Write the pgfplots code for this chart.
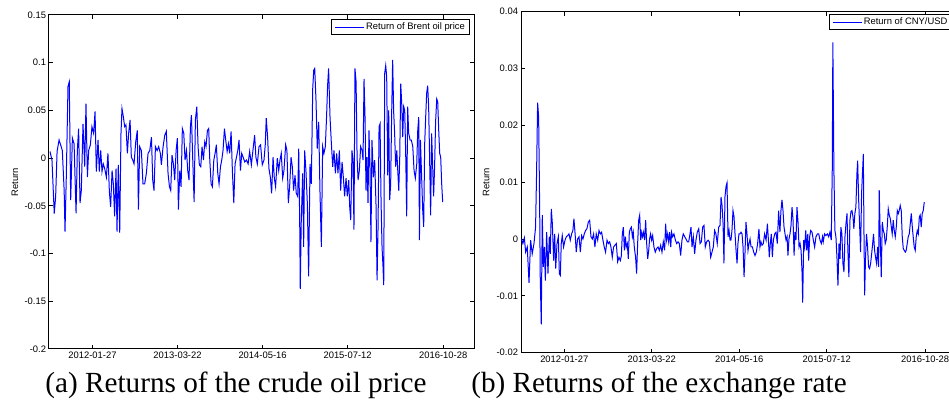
\documentclass[border=0pt]{standalone}
\usepackage{pgfplots}
\pgfplotsset{compat=1.18}
\usepackage{fontspec}
\setmainfont{Liberation Serif}
\newfontfamily\arial{Liberation Sans}
\newcommand{\tfont}{\arial\fontsize{4.7}{5.2}\selectfont}

\pgfplotstableread{
x y
0 0.007
1.4 -0.002
3 -0.058
4 -0.040
5 0.007
6.4 0.019
7.5 0.014
8.7 0.008
10 -0.034
10.6 -0.077
11.5 -0.020
12.7 0.075
13.6 0.080
14.6 -0.044
15.8 0.021
17 0.015
18.4 -0.058
19.3 0.008
20.2 0.031
21.2 -0.047
22.1 -0.034
23.3 0.036
24.5 -0.009
25.4 0.057
26.4 -0.020
27.3 0.008
28.5 0.014
29.6 0.033
30.8 0.026
31.8 0.049
32.7 -0.014
33.9 0.019
34.8 -0.014
35.8 0.008
36.7 -0.014
37.6 -0.006
38.6 -0.011
39.8 -0.020
40.9 0.005
41.9 -0.035
42.8 -0.051
43.8 -0.013
44.7 -0.027
45.6 -0.061
46.6 -0.011
47.3 -0.077
48.2 -0.007
49.2 -0.078
50.1 0.026
50.8 0.052
51.8 0.043
52.7 0.033
53.6 0.035
54.6 0.005
55.5 0.026
56.5 0.040
57.4 0.001
58.4 -0.002
59.3 -0.006
60.5 0.017
61.6 0.029
62.4 -0.054
63.3 0.012
64.5 0.008
65.6 -0.027
66.8 -0.027
68 -0.016
69.2 0.005
70.4 0.008
71.6 0.022
72.5 -0.023
73.4 -0.034
74.4 0.012
75.6 0.008
76.7 0.012
77.9 0.005
78.6 -0.007
79.8 0.012
81 0.024
82.1 0.028
83.3 -0.016
84.3 -0.030
85.2 -0.034
86.1 0.003
87.1 -0.006
88 -0.023
89 0.008
89.9 0.021
90.6 -0.054
91.6 -0.013
92.5 -0.030
93.4 0.031
94.4 0.026
95.3 -0.002
96.3 0.008
97.2 -0.013
98.1 -0.023
99.1 0.033
99.8 0.045
100.7 0.000
101.7 -0.046
102.6 0.040
103.6 0.054
104.5 0.012
105.4 -0.007
106.4 -0.009
107.3 0.012
108.3 -0.002
109.2 0.017
110.1 0.012
111.1 0.029
112 0.031
112.7 0.000
113.7 -0.027
114.6 -0.030
115.6 -0.002
116.5 0.005
117.4 0.014
118.4 -0.016
119.3 -0.027
120.3 -0.009
121.2 -0.002
122.1 0.008
123.1 0.031
124 0.019
125 0.007
125.9 0.015
126.8 0.005
127.8 0.028
128.7 -0.013
129.7 -0.047
130.6 -0.006
131.6 0.001
132.5 0.008
133.4 0.019
134.4 -0.013
135.3 0.005
136.3 0.001
137.4 -0.004
138.6 -0.002
139.8 -0.006
140.9 0.007
142.1 -0.007
143.2 0.008
144.4 0.024
145.3 0.001
146.3 -0.006
147.5 0.012
148.6 0.014
149.8 -0.007
151 -0.002
151.9 0.014
152.6 0.042
153.6 0.021
154.5 -0.011
155.5 -0.020
156.4 -0.037
157.4 0.001
158.3 -0.021
159.2 -0.030
160.4 0.000
161.4 -0.013
162.3 -0.002
163.2 0.005
164.2 -0.021
165.1 -0.013
166.3 0.014
167.2 0.008
168.2 -0.047
169.1 -0.030
170.1 0.001
171 -0.009
171.9 -0.034
172.9 -0.018
173.8 -0.037
174.8 -0.040
175.5 0.010
176.2 -0.065
176.6 -0.137
177.3 -0.067
178.3 -0.016
179 -0.093
179.7 0.008
180.6 -0.013
181.6 -0.047
182.5 -0.124
183.5 -0.006
184.4 -0.027
185.4 0.073
186.1 0.092
186.8 0.094
187.7 0.061
188.6 0.010
189.6 0.038
190.5 -0.034
191.5 -0.093
192.4 0.012
193.3 0.005
194.3 0.012
195.2 0.045
195.9 0.076
196.6 0.094
197.6 0.043
198.5 0.017
199.5 -0.009
200.4 0.008
201.4 -0.016
202.3 0.005
203.2 -0.016
204.2 0.008
205.1 -0.034
206.1 -0.004
207 -0.020
207.9 -0.040
208.9 -0.021
209.8 -0.040
210.8 -0.023
211.5 -0.051
212.2 -0.065
213.1 0.008
213.8 -0.002
214.5 -0.075
215.2 0.094
216 0.080
216.7 0.001
217.4 -0.023
218.3 -0.013
219.2 0.012
220.2 0.008
220.9 -0.002
221.6 0.083
222.3 0.043
223 -0.034
223.7 0.001
224.4 -0.047
225.1 0.029
225.8 -0.009
226.5 -0.088
227.2 0.019
228.2 -0.020
229.1 -0.002
230.1 -0.051
230.8 -0.128
231.5 -0.072
232.2 0.033
232.9 0.036
233.6 -0.044
234.3 -0.093
235 -0.114
235.5 -0.133
236.2 0.089
236.9 0.097
237.6 0.085
238.3 -0.018
239 0.050
239.7 -0.044
240.4 -0.027
241.1 0.047
241.8 0.103
242.5 0.049
243.2 0.026
243.9 -0.009
244.7 0.008
245.4 -0.013
246.1 -0.034
246.8 0.001
247.5 0.078
248.2 0.057
248.9 0.022
249.6 0.054
250.3 0.050
251 0.005
251.7 -0.061
252.4 0.054
253.1 0.026
254.1 0.019
255 0.019
256 0.012
256.9 -0.013
257.8 -0.021
258.8 -0.006
259.5 0.029
260.2 0.043
260.7 -0.086
261.4 0.019
262.1 -0.013
263 -0.054
263.7 -0.072
264.4 0.015
265.1 0.043
265.8 0.068
266.5 0.076
267.2 0.054
267.9 -0.002
268.6 -0.060
269.3 0.026
270 -0.007
270.7 -0.040
271.4 -0.009
272.1 0.038
272.9 0.062
273.6 0.059
274.3 0.029
275 0.005
275.7 0.001
276.4 -0.027
277.1 -0.046
}\brent

\pgfplotstableread{
x y
0.7 0.0000
1.6 -0.0008
2.6 0.0002
3.5 -0.0023
4.6 -0.0014
5.8 -0.0077
6.9 -0.0002
8 -0.0026
9.2 -0.0008
10.3 0.0021
11 0.0118
11.7 0.0240
12.4 0.0215
13.1 0.0056
13.5 -0.0067
14.2 -0.0150
14.9 0.0042
15.6 -0.0049
16.3 -0.0014
17 -0.0073
17.9 0.0012
18.8 -0.0061
19.7 0.0004
20.4 -0.0026
21.1 0.0053
21.8 0.0027
22.7 -0.0038
23.4 0.0009
24.1 -0.0052
25 -0.0008
25.9 0.0004
26.6 -0.0061
27.3 -0.0064
27.9 -0.0008
28.6 0.0006
29.5 -0.0014
30.5 -0.0002
31.4 0.0004
32.3 0.0006
33.2 0.0009
34.1 -0.0002
35 0.0009
35.9 0.0015
36.6 0.0036
37.5 0.0006
38.2 -0.0023
39.1 0.0000
40.1 0.0004
41 -0.0023
41.9 0.0006
42.8 0.0000
43.7 0.0009
44.6 0.0015
45.5 0.0018
46.5 0.0030
47.4 0.0033
48.3 0.0004
49.2 0.0000
50.1 0.0009
51 -0.0014
51.9 0.0009
52.9 -0.0002
53.8 0.0015
54.7 0.0009
55.6 0.0012
56.5 -0.0002
57.4 -0.0014
58.3 -0.0023
59.3 -0.0002
60.2 -0.0008
61.1 -0.0005
62 -0.0014
62.9 -0.0032
63.8 -0.0014
64.7 -0.0011
65.7 -0.0008
66.6 -0.0040
67.5 -0.0032
68.4 -0.0038
69.1 -0.0030
69.8 0.0009
70.5 0.0021
71.2 -0.0020
71.9 0.0004
72.5 -0.0014
73.2 -0.0008
73.9 -0.0035
74.6 0.0012
75.3 0.0018
76 0.0021
76.7 0.0004
77.3 0.0012
78 -0.0014
78.9 -0.0032
79.6 -0.0061
80.3 -0.0008
81 0.0033
81.7 0.0042
82.4 -0.0002
83.1 0.0012
83.7 0.0004
84.4 0.0012
85.1 -0.0002
85.8 0.0033
86.5 -0.0008
87.2 -0.0035
87.9 -0.0020
88.5 0.0000
89.2 0.0009
89.9 -0.0002
90.6 0.0006
91.5 -0.0014
92.4 -0.0023
93.3 -0.0017
94.3 -0.0014
95.2 -0.0020
96.1 -0.0011
97 -0.0023
97.9 -0.0005
98.8 -0.0020
99.5 0.0027
100.2 -0.0002
100.9 0.0009
101.6 -0.0005
102.3 0.0012
103 -0.0014
103.6 0.0012
104.3 0.0004
105.2 0.0009
106.2 -0.0002
107.1 -0.0008
108 -0.0005
108.9 -0.0008
109.8 -0.0029
110.7 -0.0002
111.6 0.0009
112.6 0.0004
113.5 0.0000
114.4 -0.0005
115.3 -0.0005
116.2 0.0009
116.9 0.0021
117.6 -0.0014
118.5 0.0004
119.4 -0.0026
120.3 -0.0002
121.2 0.0012
122.2 0.0018
123.1 -0.0008
124 -0.0005
124.9 0.0021
125.8 0.0024
126.7 -0.0014
127.6 -0.0005
128.6 -0.0002
129.5 -0.0005
130.4 -0.0032
131.3 -0.0023
132.2 -0.0014
133.1 0.0015
134 0.0009
134.9 -0.0008
135.9 0.0021
136.8 0.0024
137.5 0.0074
138.2 0.0059
138.9 0.0027
139.5 -0.0043
140.2 0.0074
140.9 0.0092
141.6 0.0099
142.3 0.0004
143 0.0015
143.7 -0.0002
144.3 -0.0002
145 0.0015
145.7 0.0050
146.4 0.0039
147.1 0.0009
147.8 -0.0020
148.5 -0.0043
149.1 -0.0008
149.8 0.0009
150.5 0.0009
151.2 0.0012
151.9 0.0009
152.6 -0.0014
153.3 -0.0067
154 -0.0020
154.6 0.0030
155.3 0.0009
156 -0.0020
156.7 -0.0008
157.4 0.0000
158.1 -0.0014
159 -0.0014
159.9 -0.0023
160.8 -0.0029
161.7 -0.0023
162.6 -0.0008
163.5 0.0018
164.2 -0.0014
164.9 -0.0005
165.6 -0.0011
166.5 -0.0008
167.4 0.0009
168.4 -0.0002
169.3 0.0027
170 -0.0002
170.6 -0.0032
171.3 -0.0008
172 0.0009
172.7 -0.0032
173.4 -0.0002
174.3 0.0009
175.2 0.0012
176.1 -0.0008
177 0.0050
177.9 0.0012
178.6 0.0050
179.3 0.0069
180 0.0050
180.7 0.0021
181.4 0.0009
182.1 -0.0002
182.8 0.0004
183.4 -0.0029
184.1 0.0000
184.8 0.0009
185.5 0.0024
186.2 0.0056
186.9 0.0033
187.6 -0.0029
188.2 0.0012
188.9 -0.0002
189.6 0.0056
190.3 0.0030
191 -0.0014
191.7 -0.0008
192.4 -0.0020
193.1 -0.0061
193.5 -0.0112
194.2 -0.0002
194.9 -0.0014
195.6 0.0015
196.3 -0.0020
197 0.0009
197.6 -0.0038
198.3 0.0004
199 0.0015
199.9 0.0012
200.8 -0.0002
201.7 -0.0014
202.6 0.0004
203.6 0.0009
204.5 0.0009
205.4 -0.0002
206.3 -0.0008
207.1 0.0004
207.6 -0.0005
208.5 0.0009
209.4 0.0006
210.4 0.0009
211.3 0.0004
212.2 0.0012
213.1 -0.0002
213.8 0.0124
214.2 0.0346
214.9 0.0124
215.6 0.0015
216.3 0.0004
217 -0.0032
217.7 -0.0082
218.4 -0.0008
219.1 -0.0035
219.7 0.0021
220.4 0.0009
221.1 -0.0043
221.8 -0.0058
222.5 0.0004
223.2 0.0027
223.9 0.0045
224.5 -0.0020
225.2 -0.0067
225.9 0.0033
226.6 0.0048
227.3 0.0050
228 0.0039
228.6 0.0018
229.3 0.0045
230 0.0056
230.7 0.0115
231.2 0.0138
231.9 0.0068
232.6 0.0021
233.2 -0.0023
233.9 0.0080
234.6 0.0121
235.1 0.0150
235.5 0.0021
236 -0.0099
236.6 -0.0032
237.3 0.0009
238 -0.0014
238.7 -0.0049
239.4 -0.0052
240.1 -0.0043
240.8 -0.0026
241.5 -0.0008
242.1 0.0009
242.8 -0.0020
243.5 -0.0032
244.2 -0.0043
244.9 -0.0014
245.6 -0.0049
246 0.0086
246.7 0.0004
247.4 -0.0067
248.1 0.0030
248.8 0.0015
249.5 0.0009
250.1 -0.0008
250.8 -0.0002
251.5 0.0021
252.2 0.0053
252.9 0.0042
253.6 0.0036
254.3 0.0021
254.9 0.0009
255.6 0.0033
256.3 0.0015
257 0.0004
257.7 0.0021
258.4 0.0050
259.1 0.0045
259.7 0.0050
260.4 0.0059
261.1 0.0050
261.8 0.0004
262.5 -0.0017
263.2 -0.0020
263.9 -0.0023
264.5 -0.0020
265.2 -0.0008
265.9 0.0004
266.6 0.0009
267.3 0.0027
268 0.0045
268.7 0.0021
269.3 0.0004
270 -0.0014
270.7 -0.0020
271.4 0.0004
272.1 0.0015
272.8 0.0009
273.5 0.0039
274.1 0.0042
274.8 0.0021
275.5 0.0045
276.2 0.0050
276.9 0.0065
}\cny

\pgfplotsset{
  matlab/.style={
    scale only axis,
    anchor=south west,
    axis line style={line width=0.5pt, black},
    every tick/.style={line width=0.5pt, black},
    major tick length=2pt,
    tick align=inside,
    scaled x ticks=false,
    scaled y ticks=false,
    xtick={30,90,150,210,277.5},
    xticklabels={2012-01-27,2013-03-22,2014-05-16,2015-07-12,2016-10-28},
    tick label style={font=\tfont},
    x tick label style={inner sep=1.2pt},
    y tick label style={inner sep=1.3pt},
    ylabel={Return},
    every axis y label/.style={at={(axis description cs:-0.08,0.5)}, rotate=90, anchor=center, font=\tfont},
    legend style={font=\tfont, draw=black, line width=0.5pt, fill=white,
      inner xsep=1.5pt, inner ysep=0.6pt, anchor=north east,
      nodes={inner sep=0.8pt}},
    legend image code/.code={\draw[#1] (0pt,0pt) -- (14.5pt,0pt);},
    legend cell align=left,
  }
}

\begin{document}
\begin{tikzpicture}
\begin{axis}[matlab,
  at={(24.5pt,26pt)}, width=212.5pt, height=167pt,
  xmin=-0.7, xmax=299.2, ymin=-0.2, ymax=0.15,
  ytick={-0.2,-0.15,-0.1,-0.05,0,0.05,0.1,0.15},
  yticklabels={-0.2,-0.15,-0.1,-0.05,0,0.05,0.1,0.15},
  legend style={at={(rel axis cs:0.9906,0.988)}},
]
\addplot[blue, line width=0.5pt] table {\brent};
\addlegendentry{Return of Brent oil price}
\end{axis}
\begin{axis}[matlab,
  at={(260.5pt,24.15pt)}, width=217.75pt, height=170.5pt,
  xmin=0.3, xmax=299, ymin=-0.02, ymax=0.04,
  ytick={-0.02,-0.01,0,0.01,0.02,0.03,0.04},
  yticklabels={-0.02,-0.01,0,0.01,0.02,0.03,0.04},
  legend style={at={(rel axis cs:0.9908,0.993)}},
]
\addplot[blue, line width=0.5pt] table {\cny};
\addlegendentry{Return of CNY/USD}
\end{axis}
\node[anchor=base, font=\fontsize{14.6}{16}\selectfont, inner sep=0pt] at (118pt,4pt) {(a) Returns of the crude oil price};
\node[anchor=base, font=\fontsize{14.6}{16}\selectfont, inner sep=0pt] at (329.5pt,4pt) {(b) Returns of the exchange rate};
\pgfresetboundingbox
\useasboundingbox (0,0) rectangle (474.5pt,200.5pt);
\end{tikzpicture}
\end{document}
